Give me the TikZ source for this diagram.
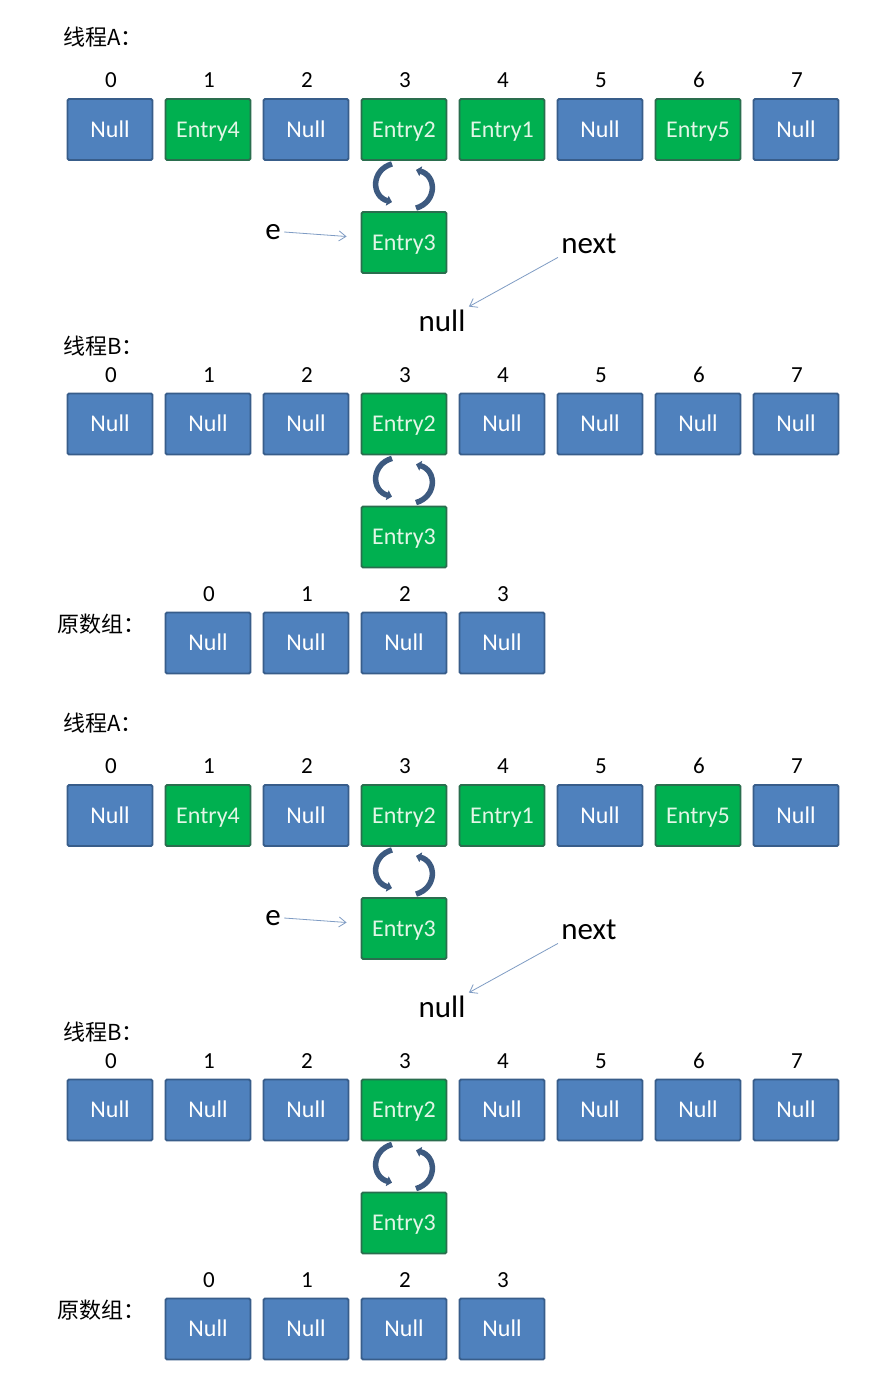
\documentclass[tikz,border=0pt]{standalone}
\usepackage{fontspec}
\setmainfont{Carlito}
\newfontfamily\cjkfont{Noto Sans CJK SC}
\usetikzlibrary{arrows.meta,calc}

\definecolor{nullblue}{HTML}{4F81BD}
\definecolor{nullline}{HTML}{385D8A}
\definecolor{entrygreen}{HTML}{00B050}
\definecolor{entryline}{HTML}{2A6E4E}
\definecolor{entrytext}{HTML}{E2F6E6}
\definecolor{loopcol}{HTML}{3D5A80}
\definecolor{pointercol}{HTML}{7F9CC4}

\begin{document}
\begin{tikzpicture}[x=1pt,y=-1pt,
  nullcell/.style={draw=nullline,fill=nullblue,line width=1.8pt,rounded corners=1.5pt,minimum width=85pt,minimum height=61pt,inner sep=0pt,text height=15.5pt,text depth=0pt,text=white,font=\fontsize{24}{28}\selectfont},
  entrycell/.style={nullcell,draw=entryline,fill=entrygreen,text=entrytext},
  idx/.style={font=\fontsize{23}{27}\selectfont},
  title/.style={anchor=west,font=\cjkfont\fontsize{22}{26}\selectfont},
  word/.style={font=\fontsize{31}{36}\selectfont},
  pointer/.style={draw=pointercol,line width=0.8pt,-{Straight Barb[length=7pt,width=10pt]}},
  looparrow/.style={draw=loopcol,line width=5.5pt,-{Triangle[length=5pt,width=10pt]}}]
\useasboundingbox[fill=white] (0,0) rectangle (882,1382);

\foreach \half/\dy in {top/0,bot/686}{
\begin{scope}[shift={(0,\dy)}]
% thread A
\node[title] (\half-ta) at (60,37) {线程A：};
\foreach \i/\c/\s in {0/Null/nullcell,1/Entry4/entrycell,2/Null/nullcell,3/Entry2/entrycell,4/Entry1/entrycell,5/Null/nullcell,6/Entry5/entrycell,7/Null/nullcell}{
  \node[idx] (\half-ai\i) at ({111+98*\i},80) {\i};
  \node[\s] (\half-a\i) at ({110+98*\i},129.5) {\c};
}
\node[entrycell] (\half-an) at (404,242.5) {Entry3};
\draw[looparrow] ($(\half-a3.south)+(-12,3)$) .. controls +(-21,6) and +(-21,-6) .. ($(\half-an.north)+(-12,-9)$);
\draw[looparrow] ($(\half-an.north)+(12,-3)$) .. controls +(21,-6) and +(21,6) .. ($(\half-a3.south)+(12,9)$);
\node[word] (\half-e) at (273,232) {e};
\draw[pointer] (\half-e.east) -- ($(\half-an.west)+(-14,-6)$);
\node[word] (\half-next) at (589,244) {next};
\node[word] (\half-null) at (442,321) {null};
\draw[pointer] (\half-next.south west) -- (\half-null.north east);

% thread B
\node[title] (\half-tb) at (60,346) {线程B：};
\foreach \i/\c/\s in {0/Null/nullcell,1/Null/nullcell,2/Null/nullcell,3/Entry2/entrycell,4/Null/nullcell,5/Null/nullcell,6/Null/nullcell,7/Null/nullcell}{
  \node[idx] (\half-bi\i) at ({111+98*\i},375) {\i};
  \node[\s] (\half-b\i) at ({110+98*\i},424) {\c};
}
\node[entrycell] (\half-bn) at (404,537) {Entry3};
\draw[looparrow] ($(\half-b3.south)+(-12,3)$) .. controls +(-21,6) and +(-21,-6) .. ($(\half-bn.north)+(-12,-9)$);
\draw[looparrow] ($(\half-bn.north)+(12,-3)$) .. controls +(21,-6) and +(21,6) .. ($(\half-b3.south)+(12,9)$);

% old table
\node[title] (\half-to) at (54,624) {原数组：};
\foreach \i in {0,...,3}{
  \node[idx] (\half-oi\i) at ({209+98*\i},594) {\i};
  \node[nullcell] (\half-o\i) at ({208+98*\i},643) {Null};
}
\end{scope}
}
\end{tikzpicture}
\end{document}
